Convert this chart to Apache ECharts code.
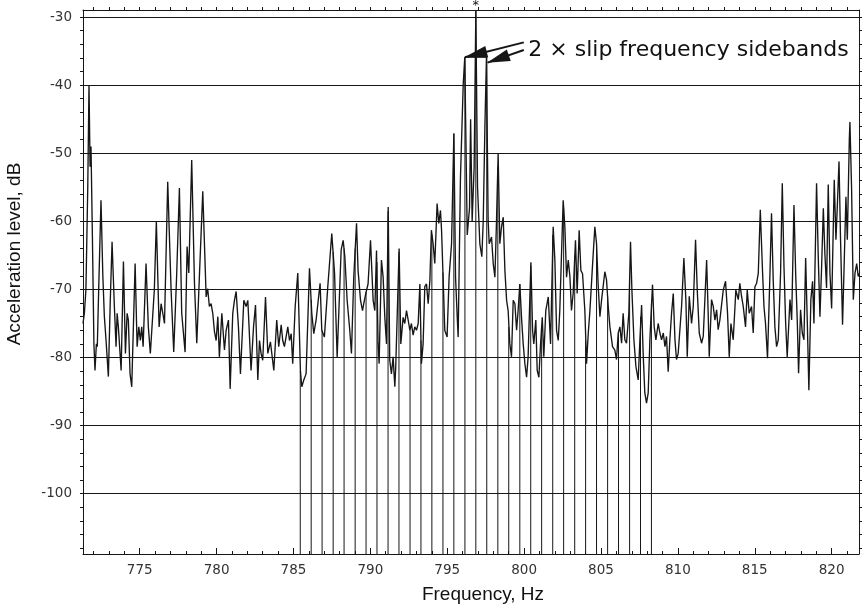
<!DOCTYPE html>
<html>
<head>
<meta charset="utf-8">
<script src="https://cdn.jsdelivr.net/npm/echarts@6/dist/echarts.min.js"></script>
<style>
  html, body { margin: 0; padding: 0; background: #fff; }
  #chart { width: 866px; height: 608px; }
</style>
</head>
<body>
<div id="chart"></div>
<script>
// Axis extents (Hz and dB)
const freqRange = [771.31, 821.78];
const levelRange = [-108.85, -28.97];

// Tick labels
const freqLabels = [775, 780, 785, 790, 795, 800, 805, 810, 815, 820];
const levelLabels = [-100, -90, -80, -70, -60, -50, -40, -30];

// Acceleration spectrum: [frequency Hz, level dB]
const spectrum = [
  [771.31,-75.0],[771.40,-73.5],[771.50,-70.0],[771.62,-55.0],[771.70,-40.0],[771.77,-52.0],[771.83,-49.0],
  [771.92,-62.0],[772.02,-78.0],[772.09,-81.9],[772.18,-78.0],[772.24,-78.4],[772.33,-70.0],[772.48,-56.9],
  [772.60,-68.0],[772.70,-74.0],[772.81,-77.5],[772.96,-82.8],[773.08,-72.0],[773.20,-63.0],[773.35,-72.5],
  [773.46,-78.4],[773.53,-73.5],[773.61,-75.5],[773.79,-81.9],[773.94,-65.9],[774.07,-79.4],[774.18,-73.5],
  [774.26,-74.5],[774.37,-82.4],[774.48,-84.3],[774.70,-66.2],[774.83,-78.4],[774.94,-75.5],[775.04,-77.5],
  [775.13,-75.5],[775.22,-78.4],[775.41,-66.2],[775.56,-75.5],[775.69,-79.4],[775.78,-79.4],[775.95,-70.0],
  [776.08,-60.0],[776.26,-75.5],[776.39,-72.1],[776.50,-73.5],[776.61,-75.0],[776.82,-54.2],[777.04,-70.1],
  [777.21,-79.2],[777.40,-68.0],[777.58,-55.1],[777.73,-73.5],[777.95,-79.2],[778.08,-63.7],[778.19,-67.6],
  [778.38,-51.0],[778.56,-69.1],[778.71,-77.9],[778.88,-68.1],[779.10,-55.6],[779.32,-71.1],[779.42,-69.9],
  [779.53,-72.5],[779.64,-72.1],[779.75,-73.5],[779.86,-76.2],[779.97,-77.5],[780.08,-74.0],[780.18,-79.9],
  [780.34,-73.5],[780.51,-78.9],[780.62,-76.0],[780.77,-74.5],[780.88,-84.6],[781.05,-73.5],[781.16,-71.6],
  [781.27,-70.3],[781.42,-75.5],[781.55,-82.4],[781.77,-71.6],[781.92,-72.5],[782.03,-71.6],[782.24,-81.9],
  [782.40,-75.5],[782.53,-72.3],[782.68,-83.3],[782.79,-77.5],[782.89,-79.4],[783.00,-80.4],[783.18,-71.1],
  [783.33,-79.4],[783.50,-77.7],[783.72,-81.9],[783.91,-74.5],[784.04,-78.4],[784.20,-75.2],[784.30,-77.5],
  [784.41,-78.4],[784.63,-75.5],[784.74,-77.5],[784.85,-76.5],[784.95,-80.9],[785.11,-72.5],[785.28,-67.6],
  [785.45,-81.9],[785.54,-84.3],[785.67,-83.3],[785.82,-82.4],[786.04,-66.9],[786.19,-73.5],[786.32,-76.5],
  [786.47,-74.5],[786.73,-69.1],[786.84,-76.0],[787.01,-77.0],[787.23,-69.6],[787.49,-61.8],[787.67,-67.6],
  [787.84,-80.0],[787.88,-77.5],[788.10,-64.2],[788.23,-62.8],[788.34,-65.2],[788.49,-71.6],[788.66,-76.0],
  [788.77,-79.4],[788.92,-68.2],[789.10,-60.3],[789.20,-67.2],[789.36,-71.6],[789.49,-73.1],[789.57,-72.1],
  [789.70,-70.6],[789.85,-69.2],[790.01,-62.8],[790.18,-71.6],[790.29,-73.1],[790.40,-64.3],[790.50,-78.0],
  [790.57,-80.9],[790.72,-65.7],[790.83,-68.2],[790.94,-74.1],[791.05,-78.0],[791.16,-57.9],[791.26,-80.4],
  [791.37,-82.4],[791.48,-79.9],[791.59,-84.3],[791.65,-81.4],[791.87,-64.0],[791.98,-78.0],[792.13,-74.1],
  [792.24,-75.0],[792.35,-73.1],[792.46,-74.5],[792.57,-76.0],[792.67,-75.0],[792.78,-76.7],[792.89,-75.5],
  [793.00,-76.0],[793.11,-75.0],[793.22,-69.2],[793.32,-80.9],[793.43,-78.0],[793.54,-69.6],[793.65,-69.2],
  [793.76,-72.1],[793.87,-68.7],[793.97,-61.3],[794.08,-63.3],[794.19,-66.2],[794.34,-57.4],[794.45,-60.3],
  [794.56,-58.4],[794.63,-61.3],[794.73,-68.2],[794.84,-76.0],[794.99,-77.0],[795.12,-68.2],[795.28,-63.3],
  [795.43,-47.1],[795.54,-68.2],[795.65,-74.1],[795.71,-77.0],[795.86,-53.5],[796.04,-39.8],[796.14,-35.9],
  [796.30,-62.0],[796.45,-58.0],[796.52,-45.0],[796.62,-60.0],[796.75,-52.0],[796.86,-28.97],[796.97,-55.0],
  [797.12,-63.3],[797.25,-65.2],[797.34,-60.0],[797.45,-46.0],[797.55,-35.9],[797.66,-59.9],[797.73,-63.3],
  [797.88,-62.3],[797.99,-66.2],[798.10,-68.2],[798.20,-60.3],[798.31,-50.1],[798.42,-63.3],[798.53,-60.8],
  [798.64,-59.4],[798.75,-67.2],[798.86,-71.6],[798.96,-73.1],[799.07,-78.0],[799.18,-79.9],[799.29,-71.6],
  [799.40,-72.1],[799.51,-76.0],[799.61,-73.1],[799.72,-69.2],[799.83,-74.1],[799.94,-78.0],[800.05,-80.9],
  [800.16,-82.9],[800.26,-79.9],[800.44,-66.0],[800.55,-76.0],[800.63,-78.0],[800.76,-74.5],[800.85,-81.9],
  [800.96,-82.9],[801.07,-78.0],[801.18,-74.1],[801.28,-79.9],[801.41,-73.1],[801.57,-71.1],[801.72,-78.0],
  [801.89,-60.8],[802.00,-65.7],[802.11,-76.0],[802.22,-77.5],[802.32,-73.1],[802.54,-56.9],[802.65,-60.8],
  [802.76,-68.2],[802.87,-65.7],[802.98,-68.2],[803.08,-73.1],[803.19,-70.6],[803.34,-62.8],[803.45,-70.6],
  [803.58,-61.3],[803.69,-67.2],[803.80,-67.7],[803.95,-73.1],[804.06,-80.9],[804.17,-76.5],[804.28,-73.1],
  [804.43,-67.2],[804.60,-60.8],[804.71,-63.3],[804.82,-69.6],[804.93,-74.0],[805.04,-71.5],[805.25,-67.4],
  [805.36,-68.6],[805.47,-72.5],[805.58,-75.5],[805.75,-78.4],[805.90,-78.9],[806.01,-80.3],[806.12,-76.4],
  [806.23,-75.5],[806.34,-77.9],[806.44,-73.5],[806.55,-77.4],[806.66,-77.9],[806.81,-73.5],[806.92,-63.0],
  [807.01,-70.1],[807.14,-77.4],[807.27,-81.3],[807.42,-83.3],[807.53,-77.4],[807.64,-72.3],[807.75,-79.9],
  [807.85,-85.2],[807.96,-86.7],[808.07,-85.2],[808.18,-77.4],[808.35,-69.3],[808.46,-75.5],[808.57,-77.4],
  [808.72,-75.0],[808.83,-76.4],[808.94,-77.4],[809.05,-76.4],[809.16,-78.4],[809.26,-76.9],[809.37,-82.1],
  [809.48,-77.4],[809.59,-73.5],[809.70,-70.6],[809.81,-77.4],[809.91,-80.3],[810.02,-79.4],[810.24,-72.5],
  [810.39,-65.4],[810.52,-71.5],[810.61,-79.9],[810.74,-71.0],[810.89,-75.0],[811.00,-72.5],[811.15,-62.7],
  [811.26,-70.1],[811.39,-76.4],[811.54,-77.9],[811.65,-76.9],[811.87,-65.7],[811.97,-73.5],[812.04,-79.9],
  [812.19,-71.5],[812.30,-72.5],[812.41,-74.5],[812.52,-73.0],[812.62,-75.9],[812.73,-74.5],[812.95,-70.1],
  [813.10,-68.8],[813.23,-73.5],[813.34,-79.9],[813.45,-75.0],[813.60,-77.4],[813.77,-70.1],[813.93,-71.5],
  [814.03,-69.1],[814.14,-71.0],[814.25,-72.5],[814.40,-75.5],[814.51,-70.1],[814.64,-73.5],[814.79,-72.5],
  [814.90,-76.4],[815.01,-69.6],[815.12,-69.1],[815.23,-67.6],[815.36,-58.3],[815.51,-67.6],[815.60,-72.5],
  [815.70,-75.0],[815.83,-80.1],[815.99,-67.6],[816.09,-58.8],[816.20,-68.6],[816.31,-75.5],[816.42,-78.4],
  [816.53,-77.4],[816.68,-67.6],[816.79,-54.4],[816.90,-66.6],[817.01,-75.0],[817.11,-79.9],[817.29,-71.5],
  [817.40,-74.5],[817.55,-57.6],[817.66,-67.6],[817.77,-75.0],[817.85,-82.3],[817.98,-73.0],[818.09,-76.4],
  [818.20,-77.4],[818.31,-65.4],[818.42,-75.0],[818.52,-84.8],[818.65,-71.5],[818.76,-68.8],[818.85,-75.0],
  [819.02,-54.4],[819.13,-65.2],[819.24,-74.0],[819.35,-66.6],[819.46,-58.1],[819.56,-64.7],[819.67,-69.8],
  [819.78,-54.6],[819.89,-67.6],[820.00,-72.8],[820.17,-53.9],[820.28,-62.7],[820.37,-57.8],[820.48,-51.2],
  [820.58,-62.7],[820.71,-75.2],[820.80,-67.6],[820.93,-56.4],[821.02,-62.7],[821.15,-48.0],[821.19,-45.4],
  [821.30,-55.4],[821.41,-71.5],[821.52,-67.6],[821.63,-66.2],[821.73,-68.1],[821.78,-67.6]
];

// Sideband cursor lines: frequency (Hz) and the level (dB) each line rises to
const sidebandHz = [
  785.44, 786.15, 786.86, 787.58, 788.29, 789.01, 789.72, 790.43, 791.15, 791.86, 792.58,
  793.29, 794.00, 794.72, 795.43, 796.15, 796.86, 797.57, 798.29, 799.00, 799.72, 800.43,
  801.14, 801.86, 802.57, 803.29, 804.00, 804.71, 805.43, 806.14, 806.86, 807.57, 808.28
];
const sidebandTopDb = [
  -82.0, -71.5, -76.0, -64.5, -64.0, -64.0, -70.4, -66.0, -58.5, -64.5, -76.0,
  -77.5, -62.0, -67.5, -47.1, -35.9, -28.97, -35.9, -52.0, -75.5, -69.2, -66.5,
  -76.0, -62.0, -58.0, -65.0, -77.5, -63.3, -71.0, -76.5, -68.0, -74.0, -72.0
];

// Bracket joining the two 2 x slip frequency sideband peaks
const bracketHz = [796.15, 797.57];
const bracketDb = [-35.9, -35.9];

// Annotation anchors in data units
const arrowTails = [[799.98, -33.72], [799.98, -34.85]];
const arrowHeads = [[796.15, -35.9], [797.62, -36.7]];
const noteAnchor = [800.24, -34.9];
const noteText = '2 \u00d7 slip frequency sidebands';

// Tick positions: every 1 Hz and every 2 dB
const freqMinorTicks = [];
for (let f = 772; f <= 821; f++) freqMinorTicks.push(f);
const levelMinorTicks = [];
for (let v = -108; v <= -30; v += 2) levelMinorTicks.push(v);

const ink = '#161616';
const labelFont = { fontFamily: 'DejaVu Sans', fontSize: 13.5, color: '#333' };

const chart = echarts.init(document.getElementById('chart'), null, { renderer: 'canvas' });

const baseX = { type: 'value', min: freqRange[0], max: freqRange[1], splitLine: { show: false } };
const baseY = { type: 'value', min: levelRange[0], max: levelRange[1], splitLine: { show: false } };

chart.setOption({
  animation: false,
  backgroundColor: '#fff',
  grid: { left: 83, right: 7, top: 10, bottom: 54, containLabel: false },
  xAxis: [
    Object.assign({}, baseX, {
      position: 'bottom',
      axisLine: { show: true, lineStyle: { color: ink, width: 1 } },
      axisTick: { show: true, inside: true, length: 3, customValues: freqMinorTicks, lineStyle: { color: ink } },
      axisLabel: Object.assign({ show: true, margin: 9, customValues: freqLabels }, labelFont)
    }),
    Object.assign({}, baseX, {
      position: 'bottom',
      axisLine: { show: false },
      axisTick: { show: true, inside: true, length: 6, customValues: freqLabels, lineStyle: { color: ink } },
      axisLabel: { show: false }
    }),
    Object.assign({}, baseX, {
      position: 'top',
      axisLine: { show: true, lineStyle: { color: ink, width: 1 } },
      axisTick: { show: true, inside: false, length: 3, customValues: freqMinorTicks, lineStyle: { color: ink } },
      axisLabel: { show: false }
    })
  ],
  yAxis: [
    Object.assign({}, baseY, {
      position: 'left',
      axisLine: { show: true, lineStyle: { color: ink, width: 1 } },
      axisTick: { show: true, inside: false, length: 3, customValues: levelMinorTicks, lineStyle: { color: ink } },
      axisLabel: Object.assign({ show: true, margin: 11, customValues: levelLabels }, labelFont)
    }),
    Object.assign({}, baseY, {
      position: 'right',
      axisLine: { show: true, lineStyle: { color: ink, width: 1 } },
      axisTick: { show: true, inside: false, length: 3, customValues: levelMinorTicks, lineStyle: { color: ink } },
      axisLabel: { show: false }
    })
  ],
  graphic: [
    {
      type: 'text', x: 15, y: 254, rotation: Math.PI / 2,
      style: { text: 'Acceleration level, dB', fontFamily: 'Liberation Sans', fontSize: 19,
               fill: '#111', align: 'center', verticalAlign: 'middle' }
    },
    {
      type: 'text', x: 483, y: 595,
      style: { text: 'Frequency, Hz', fontFamily: 'Liberation Sans', fontSize: 19,
               fill: '#111', align: 'center', verticalAlign: 'middle' }
    }
  ],
  series: [
    {
      name: 'sidebands',
      type: 'custom',
      xAxisIndex: 0, yAxisIndex: 0,
      clip: true,
      silent: true,
      data: sidebandHz.map((f, i) => [f, sidebandTopDb[i]]),
      encode: { x: 0, y: 1 },
      renderItem: function (params, api) {
        const f = api.value(0);
        const p0 = api.coord([f, levelRange[0]]);
        const p1 = api.coord([f, api.value(1)]);
        return {
          type: 'line',
          shape: { x1: p0[0], y1: p0[1], x2: p1[0], y2: p1[1] },
          style: { stroke: ink, lineWidth: 1 }
        };
      },
      z: 2
    },
    {
      name: 'spectrum',
      type: 'line',
      xAxisIndex: 0, yAxisIndex: 0,
      data: spectrum,
      showSymbol: false,
      symbol: 'none',
      clip: true,
      silent: true,
      lineStyle: { color: ink, width: 1.35 },
      markLine: {
        silent: true,
        symbol: ['none', 'none'],
        label: { show: false },
        lineStyle: { color: ink, width: 1, type: 'solid' },
        data: levelLabels.map(v => ({ yAxis: v }))
      },
      z: 3
    },
    {
      name: 'annotation',
      type: 'line',
      xAxisIndex: 0, yAxisIndex: 0,
      data: bracketHz.map((f, i) => [f, bracketDb[i]]),
      showSymbol: false,
      symbol: 'none',
      silent: true,
      lineStyle: { color: ink, width: 1.2 },
      markLine: {
        silent: true,
        symbol: ['none', 'path://M5,0 L10,22 L0,22 Z'],
        symbolSize: [12, 23],
        symbolOffset: [0, [0, 11]],
        label: { show: false },
        lineStyle: { color: ink, width: 2, type: 'solid' },
        itemStyle: { color: ink },
        data: arrowTails.map((t, i) => [{ coord: t }, { coord: arrowHeads[i] }])
      },
      markPoint: {
        silent: true,
        symbol: 'circle',
        symbolSize: 1,
        itemStyle: { color: 'rgba(0,0,0,0)' },
        data: [
          {
            coord: noteAnchor,
            label: { show: true, position: 'right', distance: 0, formatter: noteText,
                     fontFamily: 'DejaVu Sans', fontSize: 22, color: '#111' }
          },
          {
            coord: [sidebandHz[16], levelRange[1]],
            label: { show: true, position: 'top', distance: -3, formatter: '*',
                     fontFamily: 'DejaVu Sans', fontSize: 13, color: '#111' }
          }
        ]
      },
      z: 4
    }
  ]
});
</script>
</body>
</html>
